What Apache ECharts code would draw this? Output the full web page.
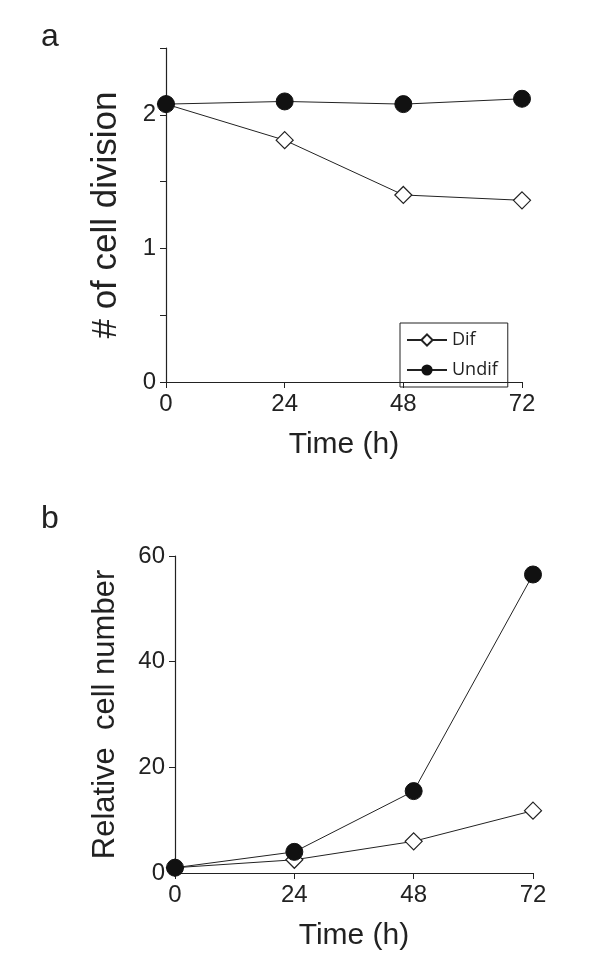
<!DOCTYPE html>
<html>
<head>
<meta charset="utf-8">
<script src="https://cdn.jsdelivr.net/npm/echarts@6/dist/echarts.min.js"></script>
<style>html,body{margin:0;padding:0;background:#fff}#main{width:600px;height:974px}</style>
</head>
<body>
<div id="main"></div>
<script>
var hours = [0, 24, 48, 72]
var divDif = [2.08, 1.81, 1.40, 1.36]
var divUndif = [2.08, 2.10, 2.08, 2.12]
var numDif = [1, 2.5, 6, 11.8]
var numUndif = [1, 4, 15.5, 56.5]

function pairs(ys) {
  return hours.map(function (h, i) { return [h, ys[i]] })
}

var chart = echarts.init(document.getElementById('main'))
var tickFont = { fontFamily: 'Liberation Sans Narrow, Liberation Sans, sans-serif', fontSize: 24, color: '#222' }
var axisLine = { lineStyle: { color: '#222', width: 1.2 } }

function xAxis(idx) {
  return {
    gridIndex: idx, type: 'value', min: 0, max: 72, interval: 24,
    name: 'Time (h)', nameLocation: 'middle', nameGap: 48,
    nameTextStyle: { fontFamily: 'Liberation Sans, sans-serif', fontSize: 30, color: '#222' },
    axisLine: axisLine, axisTick: { show: true, length: 6, inside: false, lineStyle: { color: '#222' } },
    axisLabel: Object.assign({ margin: 10 }, tickFont), splitLine: { show: false }
  }
}

var dif = { symbol: 'diamond', symbolSize: 17, itemStyle: { color: '#fff', borderColor: '#222', borderWidth: 1.2 }, lineStyle: { color: '#222', width: 1 } }
var undif = { symbol: 'circle', symbolSize: 17, itemStyle: { color: '#111', borderColor: '#111' }, lineStyle: { color: '#222', width: 1 } }

var option = {
  animation: false,
  title: [
    { text: 'a', left: 36, top: 16, textStyle: { fontFamily: 'Liberation Sans, sans-serif', fontSize: 32, fontWeight: 'normal', color: '#222' } },
    { text: 'b', left: 36, top: 498, textStyle: { fontFamily: 'Liberation Sans, sans-serif', fontSize: 32, fontWeight: 'normal', color: '#222' } }
  ],
  legend: {
    data: ['Dif', 'Undif'], orient: 'vertical', left: 400, top: 323,
    borderColor: '#222', borderWidth: 1, padding: [8, 10, 8, 6], itemGap: 12,
    itemWidth: 40, itemHeight: 14,
    textStyle: { fontFamily: 'Open Sans, sans-serif', fontSize: 18, color: '#222' }
  },
  grid: [
    { left: 166, right: 78, top: 48, bottom: 592 },
    { left: 175, right: 67, top: 556, bottom: 101 }
  ],
  xAxis: [xAxis(0), xAxis(1)],
  yAxis: [
    {
      gridIndex: 0, type: 'value', min: 0, max: 2.5, interval: 0.5,
      name: '# of cell division', nameLocation: 'middle', nameGap: 42,
      nameTextStyle: { fontFamily: 'Liberation Sans, sans-serif', fontSize: 35, color: '#222' },
      axisLine: axisLine, axisTick: { length: 6, lineStyle: { color: '#222' } },
      axisLabel: Object.assign({ margin: 10, formatter: function (v) { return v % 1 === 0 ? String(v) : '' } }, tickFont),
      splitLine: { show: false }
    },
    {
      gridIndex: 1, type: 'value', min: 0, max: 60, interval: 20,
      name: 'Relative  cell number', nameLocation: 'middle', nameGap: 54,
      nameTextStyle: { fontFamily: 'Liberation Sans, sans-serif', fontSize: 31, color: '#222' },
      axisLine: axisLine, axisTick: { length: 6, lineStyle: { color: '#222' } },
      axisLabel: Object.assign({ margin: 10 }, tickFont),
      splitLine: { show: false }
    }
  ],
  series: [
    Object.assign({ name: 'Dif', type: 'line', xAxisIndex: 0, yAxisIndex: 0, data: pairs(divDif) }, dif),
    Object.assign({ name: 'Undif', type: 'line', xAxisIndex: 0, yAxisIndex: 0, data: pairs(divUndif) }, undif),
    Object.assign({ name: 'Dif', type: 'line', xAxisIndex: 1, yAxisIndex: 1, data: pairs(numDif) }, dif),
    Object.assign({ name: 'Undif', type: 'line', xAxisIndex: 1, yAxisIndex: 1, data: pairs(numUndif) }, undif)
  ]
}
chart.setOption(option)
</script>
</body>
</html>
